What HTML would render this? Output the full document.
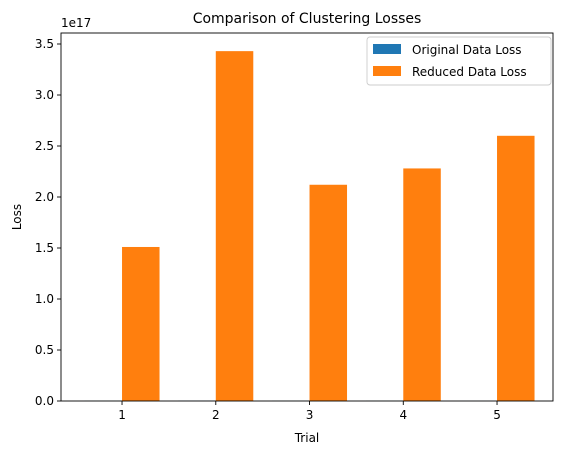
<!DOCTYPE html>
<html><head><meta charset="utf-8">
<style>
body{margin:0;background:#fff;}
svg{display:block;font-family:"DejaVu Sans","Liberation Sans",sans-serif;}
</style></head>
<body>
<svg id="chart" width="567" height="455" viewBox="0 0 567 455" xmlns="http://www.w3.org/2000/svg">
<rect x="0" y="0" width="567" height="455" fill="#fff"/>
<text x="307" y="23" font-size="14" text-anchor="middle" fill="#000">Comparison of Clustering Losses</text>
<g id="plot"></g>
<rect x="61" y="33" width="492" height="368" fill="none" stroke="#000" stroke-width="0.9"/>
<text x="61" y="27" font-size="12" fill="#000">1e17</text>
<text x="307" y="442" font-size="12" text-anchor="middle" fill="#000">Trial</text>
<text x="21" y="217" font-size="12" text-anchor="middle" fill="#000" transform="rotate(-90 21 217)">Loss</text>
<g>
<rect x="367" y="37" width="184" height="48" rx="3" fill="#fff" fill-opacity="0.8" stroke="#ccc" stroke-width="0.9"/>
<g>
<rect x="373" y="44" width="28" height="10" fill="#1f77b4"/>
<text x="412" y="54" font-size="12" fill="#000">Original Data Loss</text>
</g>
<g>
<rect x="373" y="66" width="28" height="10" fill="#ff7f0e"/>
<text x="412" y="76" font-size="12" fill="#000">Reduced Data Loss</text>
</g>
</g>
</svg>
<script>
const trials = [1, 2, 3, 4, 5];
const originalLoss = [0.002, 0.003, 0.002, 0.002, 0.001];
const reducedLoss = [1.51, 3.43, 2.12, 2.28, 2.60];
const yTicks = [0, 0.5, 1.0, 1.5, 2.0, 2.5, 3.0, 3.5];
const xTickLabels = ["1", "2", "3", "4", "5"];

const NS = "http://www.w3.org/2000/svg";
const plot = document.getElementById("plot");
const X0 = 61, X1 = 553, Y0 = 401, Y1 = 33;
const xMin = 0.349, xMax = 5.597, yMin = 0, yMax = (Y0 - Y1) / 102 * 1.0;
function xs(v){ return X0 + (v - xMin) / (xMax - xMin) * (X1 - X0); }
function ys(v){ return Y0 - (v - yMin) / (yMax - yMin) * (Y0 - Y1); }
function mk(tag, attrs){ const e = document.createElementNS(NS, tag); for (const k in attrs) e.setAttribute(k, attrs[k]); return e; }
const bw = 0.4;

trials.forEach((t, i) => {
  const b1 = mk("rect", {x: xs(t - bw), y: ys(originalLoss[i]), width: xs(t) - xs(t - bw), height: ys(0) - ys(originalLoss[i]), fill: "#1f77b4"});
  
  
  plot.appendChild(b1);
  const b2 = mk("rect", {x: xs(t), y: ys(reducedLoss[i]), width: xs(t + bw) - xs(t), height: ys(0) - ys(reducedLoss[i]), fill: "#ff7f0e"});
  
  
  plot.appendChild(b2);
  const tk = mk("line", {x1: xs(t), x2: xs(t), y1: Y0, y2: Y0 + 4, stroke: "#000", "stroke-width": 0.9});
  
  
  plot.appendChild(tk);
  const tl = mk("text", {x: xs(t), y: Y0 + 18, "font-size": 12, "text-anchor": "middle", fill: "#000"});
  tl.textContent = xTickLabels[i];
  
  
  plot.appendChild(tl);
});

yTicks.forEach(v => {
  const tk = mk("line", {x1: X0 - 4, x2: X0, y1: ys(v), y2: ys(v), stroke: "#000", "stroke-width": 0.9});
  
  
  plot.appendChild(tk);
  const tl = mk("text", {x: X0 - 7, y: ys(v) + 4, "font-size": 12, "text-anchor": "end", fill: "#000"});
  tl.textContent = v.toFixed(1);
  
  
  plot.appendChild(tl);
});
</script>
</body></html>
